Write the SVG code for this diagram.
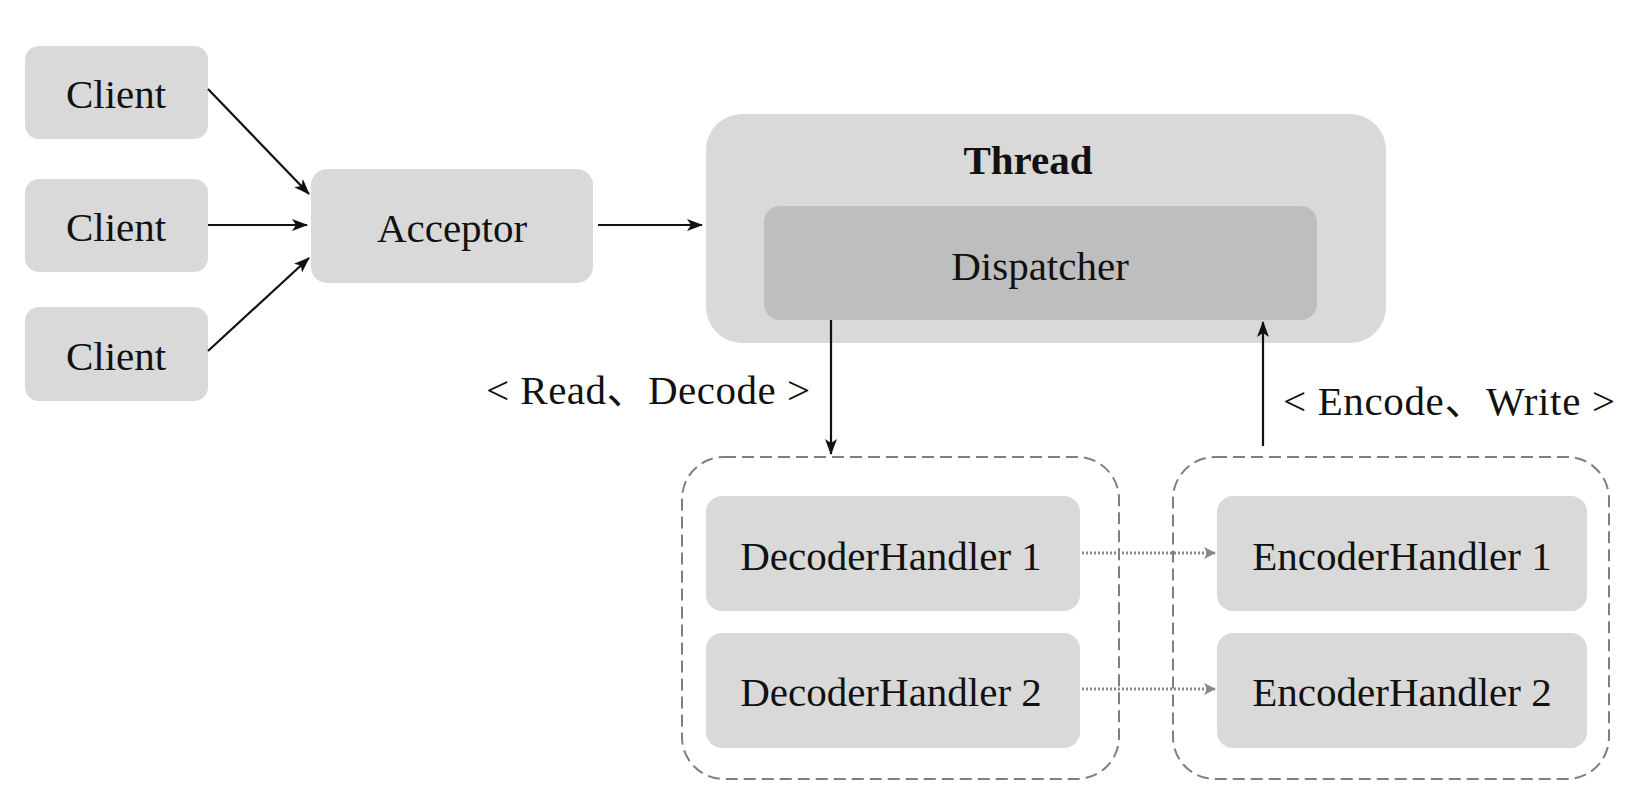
<svg xmlns="http://www.w3.org/2000/svg" width="1628" height="797" viewBox="0 0 1628 797">
<style>
.box{fill:#d9d9d9}
.disp{fill:#bebebe}
.grp{fill:none;stroke:#7f7f7f;stroke-width:2;stroke-dasharray:12 6}
.t{font-family:"Liberation Serif","Times New Roman",serif;font-size:41px;fill:#111;text-anchor:middle;dominant-baseline:central}
.lbl{font-family:"Liberation Serif","Times New Roman","Noto Sans CJK SC",serif;font-size:41px;fill:#111;dominant-baseline:central}
.b{font-weight:bold}
.c{stroke:#111;stroke-width:2.2;fill:none}
.d{stroke:#888;stroke-width:3;fill:none;stroke-dasharray:2 2}
</style>
<defs>
<marker id="ah" viewBox="0 0 16 12" refX="15" refY="6" markerWidth="16" markerHeight="12" markerUnits="userSpaceOnUse" orient="auto">
<path d="M0,0 L16,6 L0,12 L4,6 Z" fill="#111"/>
</marker>
<marker id="ag" viewBox="0 0 12 12" refX="11" refY="6" markerWidth="12" markerHeight="12" markerUnits="userSpaceOnUse" orient="auto">
<path d="M0,0 L12,6 L0,12 L3,6 Z" fill="#888"/>
</marker>
</defs>
<rect width="1628" height="797" fill="#fff"/>

<g id="client1"><rect class="box" x="25" y="46" width="183" height="93" rx="14"/><text class="t" x="116" y="94">Client</text></g>
<g id="client2"><rect class="box" x="25" y="179" width="183" height="93" rx="14"/><text class="t" x="116" y="227">Client</text></g>
<g id="client3"><rect class="box" x="25" y="307" width="183" height="94" rx="14"/><text class="t" x="116" y="356">Client</text></g>
<g id="acceptor"><rect class="box" x="311" y="169" width="282" height="114" rx="16"/><text class="t" x="452" y="228">Acceptor</text></g>
<g id="thread"><rect class="box" x="706" y="114" width="680" height="229" rx="36"/><text class="t b" x="1028" y="160">Thread</text></g>
<g id="dispatcher"><rect class="disp" x="764" y="206" width="553" height="114" rx="16"/><text class="t" x="1040" y="266">Dispatcher</text></g>
<g id="decoderGroup"><rect class="grp" x="682" y="457" width="437" height="322" rx="42"/></g>
<g id="encoderGroup"><rect class="grp" x="1173" y="457" width="436" height="322" rx="42"/></g>
<g id="decoder1"><rect class="box" x="706" y="496" width="374" height="115" rx="16"/><text class="t" x="891" y="556">DecoderHandler 1</text></g>
<g id="decoder2"><rect class="box" x="706" y="633" width="374" height="115" rx="16"/><text class="t" x="891" y="692">DecoderHandler 2</text></g>
<g id="encoder1"><rect class="box" x="1217" y="496" width="370" height="115" rx="16"/><text class="t" x="1402" y="556">EncoderHandler 1</text></g>
<g id="encoder2"><rect class="box" x="1217" y="633" width="370" height="115" rx="16"/><text class="t" x="1402" y="692">EncoderHandler 2</text></g>

<g id="connectors">
<line class="c" x1="208" y1="89" x2="309" y2="194" marker-end="url(#ah)"/>
<line class="c" x1="208" y1="225" x2="307" y2="225" marker-end="url(#ah)"/>
<line class="c" x1="208" y1="351" x2="309" y2="258" marker-end="url(#ah)"/>
<line class="c" x1="598" y1="225" x2="702" y2="225" marker-end="url(#ah)"/>
<line class="c" x1="831" y1="320" x2="831" y2="454" marker-end="url(#ah)"/>
<line class="c" x1="1263" y1="446" x2="1263" y2="322" marker-end="url(#ah)"/>
<line class="d" x1="1082" y1="553" x2="1215" y2="553" marker-end="url(#ag)"/>
<line class="d" x1="1082" y1="689" x2="1215" y2="689" marker-end="url(#ag)"/>
<text class="lbl" x="486" y="390" textLength="324" lengthAdjust="spacing">&lt; Read、Decode &gt;</text>
<text class="lbl" x="1283" y="401" textLength="332" lengthAdjust="spacing">&lt; Encode、Write &gt;</text>
</g>
</svg>
